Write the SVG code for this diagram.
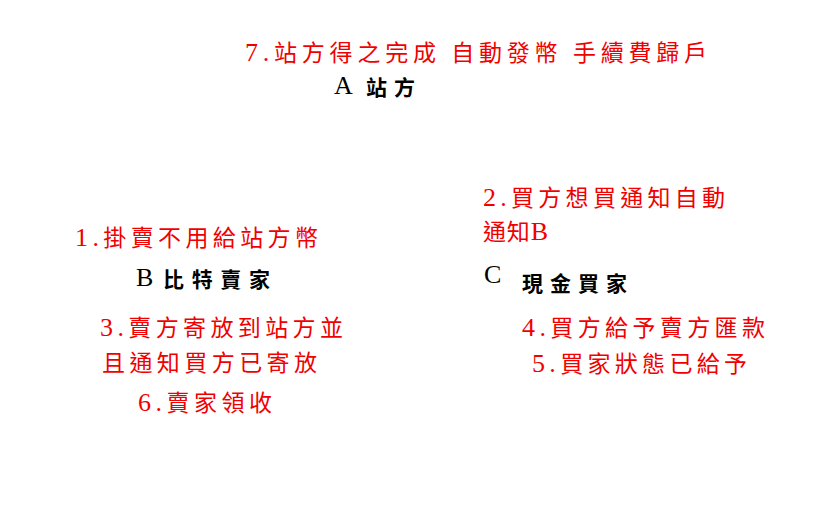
<svg xmlns="http://www.w3.org/2000/svg" width="825" height="510" viewBox="0 0 825 510">
<style>
.r{fill:#f00000;font-family:"Liberation Serif","Noto Sans CJK TC",serif;font-size:23px}
.k{fill:#000;font-family:"Liberation Serif","Noto Sans CJK TC",serif;font-size:21px;font-weight:bold}
.L{font-family:"Liberation Serif",serif;font-size:26px;font-weight:normal}
</style>
<rect width="825" height="510" fill="#fff"/>
<g id="label7"><text class="r" x="245" y="61" textLength="462" lengthAdjust="spacing" xml:space="preserve"><tspan class="L">7.</tspan>站方得之完成 自動發幣 手續費歸戶</text></g>
<g id="nodeA"><text class="k L" x="334" y="94">A</text><text class="k" x="366" y="95" textLength="49" lengthAdjust="spacing">站方</text></g>
<g id="label1"><text class="r" x="75" y="246" textLength="243" lengthAdjust="spacing"><tspan class="L">1.</tspan>掛賣不用給站方幣</text></g>
<g id="nodeB"><text class="k L" x="136" y="286">B</text><text class="k" x="163" y="287" textLength="107" lengthAdjust="spacing">比特賣家</text></g>
<g id="label3"><text class="r" x="100" y="336" textLength="243" lengthAdjust="spacing"><tspan class="L">3.</tspan>賣方寄放到站方並</text><text class="r" x="102" y="371" textLength="215" lengthAdjust="spacing">且通知買方已寄放</text></g>
<g id="label6"><text class="r" x="138" y="411" textLength="134" lengthAdjust="spacing"><tspan class="L">6.</tspan>賣家領收</text></g>
<g id="label2"><text class="r" x="483" y="206" textLength="242" lengthAdjust="spacing"><tspan class="L">2.</tspan>買方想買通知自動</text><text class="r" x="483" y="240" textLength="65" lengthAdjust="spacing">通知<tspan class="L">B</tspan></text></g>
<g id="nodeC"><text class="k L" x="484" y="283">C</text><text class="k" x="522" y="291" textLength="105" lengthAdjust="spacing">現金買家</text></g>
<g id="label4"><text class="r" x="522" y="336" textLength="243" lengthAdjust="spacing"><tspan class="L">4.</tspan>買方給予賣方匯款</text></g>
<g id="label5"><text class="r" x="532" y="372" textLength="215" lengthAdjust="spacing"><tspan class="L">5.</tspan>買家狀態已給予</text></g>
<g id="connectors"></g>
</svg>
